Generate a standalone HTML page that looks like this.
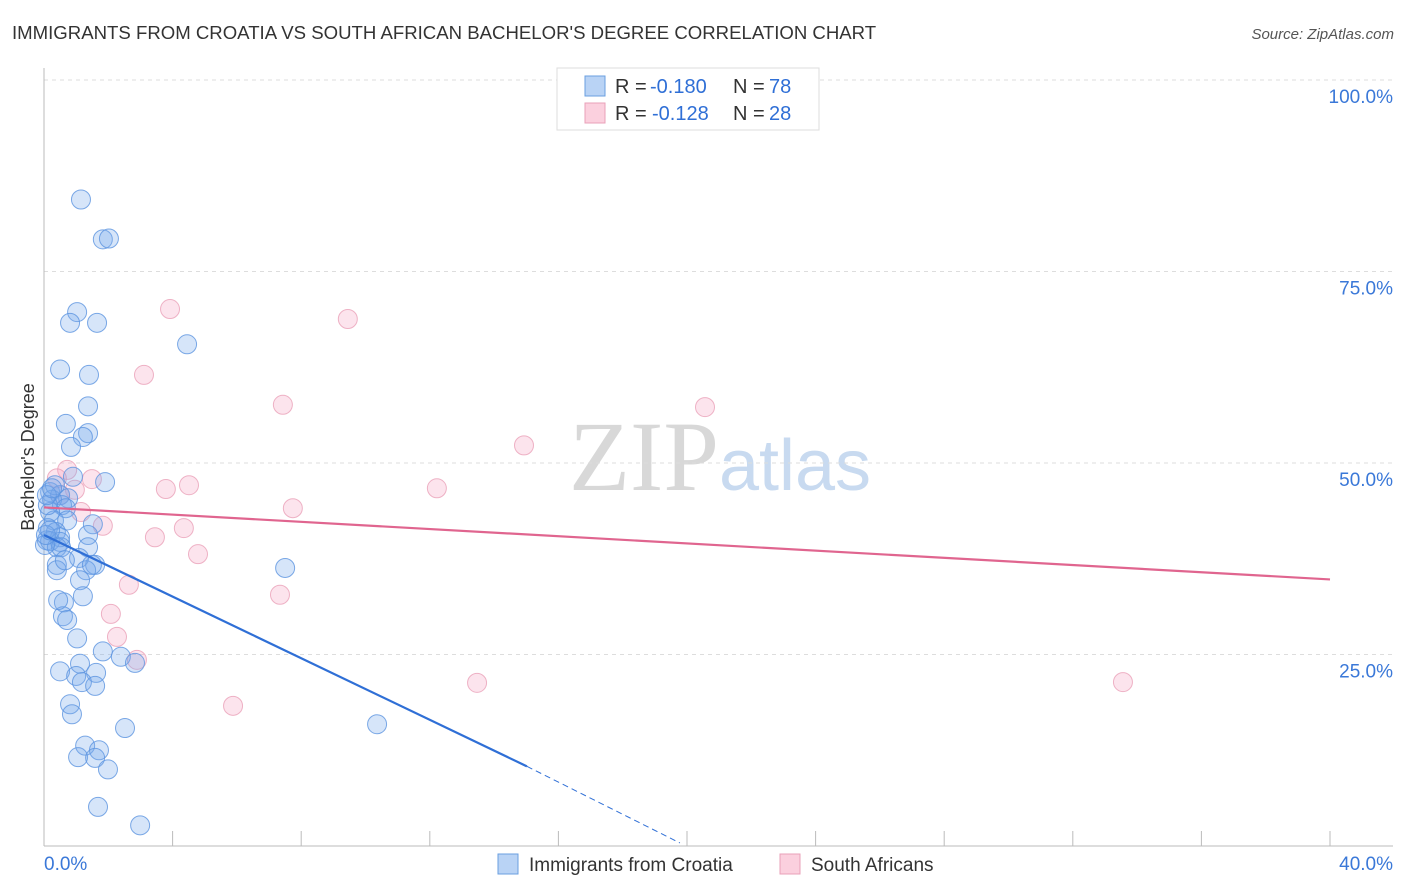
<!DOCTYPE html>
<html><head><meta charset="utf-8"><style>
body{margin:0;background:#fff;font-family:"Liberation Sans",sans-serif;}
</style></head><body>
<svg id="chart" width="1406" height="892" xmlns="http://www.w3.org/2000/svg" style="display:block">
<text x="12" y="39" font-size="18.6" fill="#333">IMMIGRANTS FROM CROATIA VS SOUTH AFRICAN BACHELOR'S DEGREE CORRELATION CHART</text>
<text x="1394" y="39" font-size="15" fill="#555" text-anchor="end" font-style="italic">Source: ZipAtlas.com</text>
<text x="720" y="490" font-size="100" fill="#ddd" text-anchor="middle" font-family="Liberation Serif"><tspan fill="#d8d8d8">ZIP</tspan><tspan fill="#c8daf0" font-family="Liberation Sans" font-size="72">atlas</tspan></text>
<g id="grid"></g>
<g id="axes"></g>
<g id="marks"></g>
<text transform="translate(34,457) rotate(-90)" font-size="18" fill="#333" text-anchor="middle">Bachelor's Degree</text>
<g>
<rect x="557" y="68" width="262" height="62" fill="#fff" stroke="#ddd"/>
<rect x="585" y="76" width="20" height="20" fill="#b9d3f5" stroke="#6a9fe0"/>
<rect x="585" y="103" width="20" height="20" fill="#fbd0de" stroke="#eaa0b8"/>
<text x="615" y="93" font-size="20" fill="#333">R =</text>
<text x="650" y="93" font-size="20" fill="#2f6fd6">-0.180</text>
<text x="733" y="93" font-size="20" fill="#333">N =</text>
<text x="769" y="93" font-size="20" fill="#2f6fd6">78</text>
<text x="615" y="120" font-size="20" fill="#333">R =</text>
<text x="652" y="120" font-size="20" fill="#2f6fd6">-0.128</text>
<text x="733" y="120" font-size="20" fill="#333">N =</text>
<text x="769" y="120" font-size="20" fill="#2f6fd6">28</text>
</g>
<g>
<rect x="498" y="854" width="20" height="20" fill="#b9d3f5" stroke="#6a9fe0"/>
<text x="529" y="871" font-size="19" fill="#333">Immigrants from Croatia</text>
<rect x="780" y="854" width="20" height="20" fill="#fbd0de" stroke="#eaa0b8"/>
<text x="811" y="871" font-size="19" fill="#333">South Africans</text>
</g>
</svg>
<script>
const blueX=[1.15,1.83,2.02,1.03,0.81,1.65,4.45,0.50,1.40,1.37,0.68,1.37,1.21,0.84,1.90,0.90,0.19,0.50,0.75,0.25,0.56,0.68,0.19,0.31,0.72,0.12,0.37,0.09,0.50,1.52,1.37,0.19,0.50,1.37,0.40,0.53,1.59,1.09,0.40,0.40,1.31,1.49,7.50,1.12,1.21,0.62,0.59,0.72,1.03,1.83,2.39,2.83,1.12,0.50,1.62,1.00,1.18,1.59,0.81,0.87,2.52,10.36,1.28,1.71,1.06,1.59,1.99,1.68,2.99,0.03,0.12,0.06,0.19,0.34,0.09,0.65,0.44,0.25];
const blueY=[84.4,79.2,79.3,69.7,68.3,68.3,65.5,62.2,61.5,57.4,55.1,53.9,53.4,52.1,47.5,48.2,46.2,45.8,45.4,45.2,44.5,44.1,43.6,42.5,42.5,41.5,41.0,39.9,40.3,42.0,40.6,39.8,39.7,39.0,39.0,39.0,36.7,37.6,36.7,36.0,36.0,36.7,36.3,34.7,32.6,31.8,30.0,29.5,27.1,25.4,24.7,23.9,23.8,22.8,22.6,22.2,21.4,20.9,18.5,17.2,15.4,15.9,13.1,12.5,11.6,11.5,10.0,5.1,2.7,39.3,44.5,40.6,41.2,47.1,45.8,37.3,32.1,46.7];
const pinkX=[3.92,9.45,3.11,7.43,14.93,20.56,0.72,0.40,1.49,0.96,3.79,4.51,12.22,7.74,1.15,1.83,4.35,3.45,4.79,2.64,7.34,2.08,2.27,2.89,5.88,13.47,33.56,0.50];
const pinkY=[70.1,68.8,61.5,57.6,52.3,57.3,49.1,48.0,47.9,46.5,46.6,47.1,46.7,44.1,43.6,41.8,41.5,40.3,38.1,34.1,32.8,30.3,27.3,24.3,18.3,21.3,21.4,45.8];
const yTicks=[25,50,75,100];
const yTickLabels=["25.0%","50.0%","75.0%","100.0%"];
const xTickLabels=["0.0%","40.0%"];
const blueTrend=[[0,40.6],[15.02,10.4],[19.78,0.4]];
const pinkTrend=[[0,44.2],[40,34.8]];
const NS="http://www.w3.org/2000/svg";
const X=v=>44+v/40*1286, Y=v=>846-v/100*766;
function mk(t,a,p){const e=document.createElementNS(NS,t);for(const k in a)e.setAttribute(k,a[k]);p.appendChild(e);return e;}
const grid=document.getElementById('grid'),axes=document.getElementById('axes'),marks=document.getElementById('marks');
yTicks.forEach((t,i)=>{
 const l=mk('line',{x1:44,x2:1393,y1:Y(t),y2:Y(t),stroke:'#ddd','stroke-dasharray':'4,4'},grid);
 
 
 const tx=mk('text',{x:1393,y:Y(t)+23,'font-size':19,fill:'#3a78d8','text-anchor':'end'},axes);
 tx.textContent=yTickLabels[i];
 
 
});
const ax=mk('line',{x1:44,x2:44,y1:68,y2:846,stroke:'#bbb'},axes);


const bx=mk('line',{x1:44,x2:1393,y1:846,y2:846,stroke:'#bbb'},axes);


for(let i=1;i<=10;i++){const t=mk('line',{x1:X(i*4),x2:X(i*4),y1:831,y2:846,stroke:'#bbb'},axes);
 
 }
[[0,'start',44],[1,'end',1393]].forEach(([i,a,x])=>{const t=mk('text',{x:x,y:870,'font-size':19,fill:'#3a78d8','text-anchor':a},axes);t.textContent=xTickLabels[i];
 
 });
function dots(xs,ys,fill,stroke,name){xs.forEach((x,i)=>{const c=mk('circle',{cx:X(x),cy:Y(ys[i]),r:9.5,fill:fill,stroke:stroke,'stroke-width':1,'stroke-opacity':0.8},marks);
 
 });}
dots(pinkX,pinkY,'rgba(245,165,195,0.3)','#eaa0b8','south-african-point');
dots(blueX,blueY,'rgba(120,170,235,0.3)','#5b93e0','croatia-point');
const b1=mk('line',{x1:X(blueTrend[0][0]),y1:Y(blueTrend[0][1]),x2:X(blueTrend[1][0]),y2:Y(blueTrend[1][1]),stroke:'#2f6fd6','stroke-width':2.2},marks);


const b2=mk('line',{x1:X(blueTrend[1][0]),y1:Y(blueTrend[1][1]),x2:X(blueTrend[2][0]),y2:Y(blueTrend[2][1]),stroke:'#2f6fd6','stroke-width':1,'stroke-dasharray':'6,4'},marks);


const p1=mk('line',{x1:X(pinkTrend[0][0]),y1:Y(pinkTrend[0][1]),x2:X(pinkTrend[1][0]),y2:Y(pinkTrend[1][1]),stroke:'#e0658f','stroke-width':2.2},marks);


</script>
</body></html>
